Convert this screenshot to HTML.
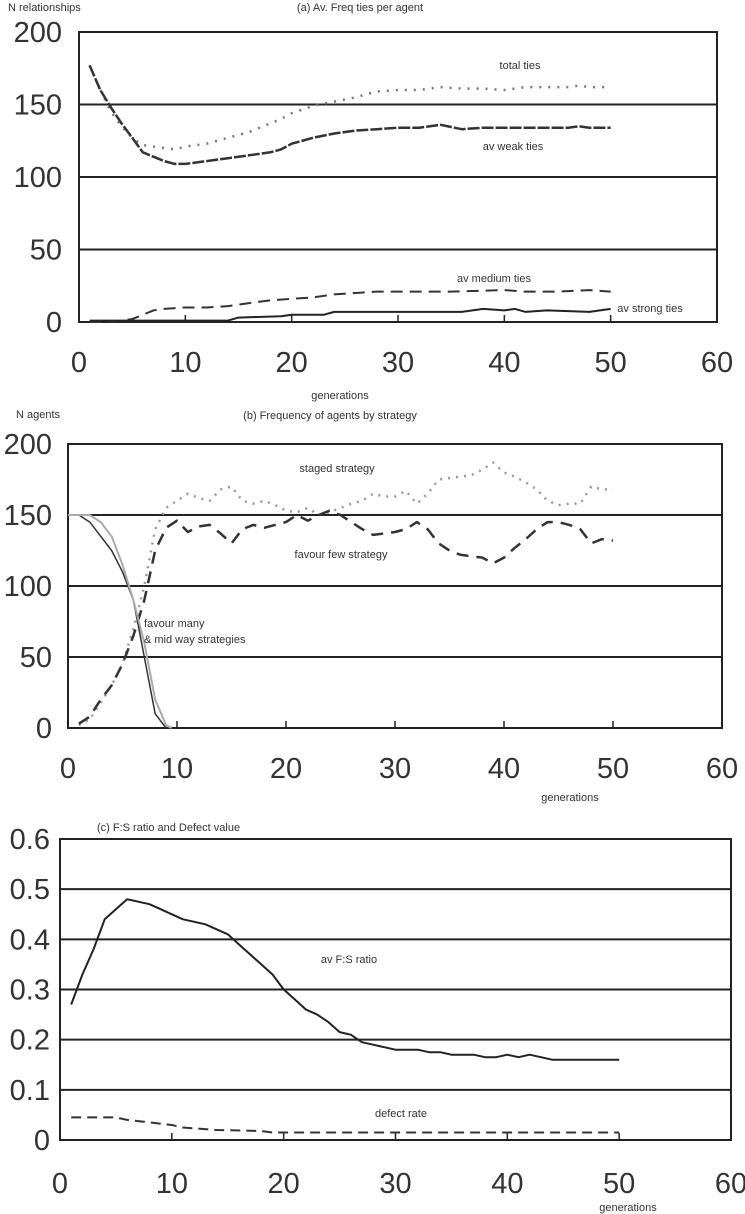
<!DOCTYPE html>
<html><head><meta charset="utf-8"><style>
html,body{margin:0;padding:0;background:#fff;}
svg{display:block;font-family:"Liberation Sans",sans-serif;}
.tick{font-size:29px;fill:#333;}
.lbl{font-size:11px;fill:#333;}
</style></head><body>
<svg id="fig" width="745" height="1214" viewBox="0 0 745 1214"></svg>
<script>
// Panel (a) data
const genA = [1,2,3,4,5,6,7,8,9,10,12,14,16,18,19,20,22,24,26,28,30,32,34,36,38,40,42,44,46,47,48,50];
const totalTies = [177,160,145,135,127,122,121,120,119,121,123,127,131,137,140,144,149,152,155,159,160,160,162,161,161,160,162,162,162,163,162,162];
const weakTies = [177,160,148,137,127,117,114,111,109,109,111,113,115,117,119,123,127,130,132,133,134,134,136,133,134,134,134,134,134,135,134,134];
const genMed = [1,3,4,5,6,7,8,10,12,14,16,18,20,22,24,26,28,30,35,40,42,45,48,50];
const mediumTies = [0,0,1,2,5,8,9,10,10,11,13,15,16,17,19,20,21,21,21,22,21,21,22,21];
const genStrong = [1,5,10,14,15,19,20,23,24,30,36,38,40,41,42,44,48,50];
const strongTies = [1,1,1,1,3,4,5,5,7,7,7,9,8,9,7,8,7,9];
const ticksA = [0,50,100,150,200];
const ticksX = [0,10,20,30,40,50,60];
// Panel (b) data
const genB = [1,2,3,4,5,6,7,8,9,10,11,12,13,14,15,16,17,18,19,20,21,22,23,24,25,26,27,28,29,30,31,32,33,34,35,36,37,38,39,40,41,42,43,44,45,46,47,48,49,50];
const favourFew = [3,8,20,30,45,65,90,125,141,146,138,142,143,137,130,140,143,141,143,145,150,146,150,153,150,145,140,136,137,138,140,145,140,130,125,122,121,120,116,120,127,133,140,145,145,143,140,130,133,132];
const staged = [2,6,18,30,45,70,100,140,155,160,165,162,160,168,170,160,158,160,157,153,152,155,150,152,155,158,160,165,163,163,167,158,165,175,176,177,178,182,187,180,177,173,168,160,157,158,158,170,168,168];
const genMany = [0,1,2,3,4,5,6,7,8,9];
const favourMany = [150,150,145,135,125,110,90,50,10,0];
const genMid = [0,1,2,3,4,5,6,7,8,9,9.5];
const midWay = [150,150,150,145,135,115,90,60,20,2,0];
const ticksB = [0,50,100,150,200];
// Panel (c) data
const genC = [1,2,3,4,5,6,7,8,9,10,11,12,13,14,15,16,17,18,19,20,21,22,23,24,25,26,27,28,29,30,32,33,34,35,37,38,39,40,41,42,43,44,46,48,50];
const fsRatio = [0.27,0.33,0.38,0.44,0.46,0.48,0.475,0.47,0.46,0.45,0.44,0.435,0.43,0.42,0.41,0.39,0.37,0.35,0.33,0.30,0.28,0.26,0.25,0.235,0.215,0.21,0.195,0.19,0.185,0.18,0.18,0.175,0.175,0.17,0.17,0.165,0.165,0.17,0.165,0.17,0.165,0.16,0.16,0.16,0.16];
const genDef = [1,3,5,6,8,10,11,14,18,19,25,30,40,50];
const defectRate = [0.045,0.045,0.045,0.04,0.035,0.03,0.025,0.02,0.018,0.015,0.015,0.015,0.015,0.015];
const ticksC = [0,0.1,0.2,0.3,0.4,0.5,0.6];

const NS='http://www.w3.org/2000/svg';
const svg=document.getElementById('fig');
function el(tag,attrs,parent){const e=document.createElementNS(NS,tag);for(const k in attrs)e.setAttribute(k,attrs[k]);(parent||svg).appendChild(e);return e;}

function panel(cfg){
  const g=el('g',{});
  
  
  const sx=v=>cfg.x0+(cfg.x1-cfg.x0)*v/60;
  const sy=v=>cfg.yb+(cfg.yt-cfg.yb)*(v-cfg.ymin)/(cfg.ymax-cfg.ymin);
  // grid
  cfg.ticks.forEach(t=>{
    const ln=el('line',{x1:cfg.x0,x2:cfg.x1,y1:sy(t),y2:sy(t),stroke:'#222','stroke-width':2},g);
    
    
    const tx=el('text',{x:cfg.yLabX,y:sy(t)+10,'text-anchor':'end',class:'tick'},g);
    tx.textContent=cfg.fmt(t);
    
    
  });
  const box=el('rect',{x:cfg.x0,y:cfg.yt,width:cfg.x1-cfg.x0,height:cfg.yb-cfg.yt,fill:'none',stroke:'#222','stroke-width':2},g);
  
  
  ticksX.forEach(t=>{
    if(t>0&&t<60){const tk=el('line',{x1:sx(t),x2:sx(t),y1:cfg.yb,y2:cfg.yb-7,stroke:'#222','stroke-width':1.5},g);
    
    }
    const tx=el('text',{x:sx(t),y:cfg.xLabY,'text-anchor':'middle',class:'tick'},g);
    tx.textContent=t;
    
    
  });
  cfg.series.forEach(s=>{
    const d=s.x.map((xv,i)=>(i?'L':'M')+sx(xv).toFixed(1)+','+sy(s.y[i]).toFixed(1)).join(' ');
    const p=el('path',{d:d,fill:'none',stroke:s.c,'stroke-width':s.w,'stroke-dasharray':s.dash||'none','stroke-linejoin':'round'},g);
    
    
  });
  cfg.texts.forEach(t=>{
    const tx=el('text',{x:t[0],y:t[1],class:'lbl','text-anchor':t[3]||'start'},g);
    tx.textContent=t[2];
    
    
  });
}

panel({name:'panel-a',x0:79,x1:717,yt:32,yb:322,ymin:0,ymax:200,ticks:ticksA,fmt:v=>v,yLabX:62,xLabY:372,
  series:[
   {name:'total-ties-line',x:genA,y:totalTies,c:'#777',w:2.5,dash:'2,7'},
   {name:'weak-ties-line',x:genA,y:weakTies,c:'#333',w:2.5,dash:'12,2'},
   {name:'medium-ties-line',x:genMed,y:mediumTies,c:'#333',w:2,dash:'12,7'},
   {name:'strong-ties-line',x:genStrong,y:strongTies,c:'#222',w:2}
  ],
  texts:[[8,11,'N relationships','start','y-axis-title'],[360,11,'(a) Av. Freq ties per agent','middle','chart-title'],
   [520,69,'total ties','middle','label-total-ties'],[513,150,'av weak ties','middle','label-weak-ties'],
   [494,282,'av medium ties','middle','label-medium-ties'],[650,312,'av strong ties','middle','label-strong-ties'],
   [340,399,'generations','middle','x-axis-title']]
});
panel({name:'panel-b',x0:68,x1:722,yt:444,yb:728,ymin:0,ymax:200,ticks:ticksB,fmt:v=>v,yLabX:52,xLabY:778,
  series:[
   {name:'staged-strategy-line',x:genB,y:staged,c:'#999',w:2.5,dash:'2,6'},
   {name:'favour-few-line',x:genB,y:favourFew,c:'#333',w:2.5,dash:'12,8'},
   {name:'favour-many-line',x:genMany,y:favourMany,c:'#333',w:1.5},
   {name:'mid-way-line',x:genMid,y:midWay,c:'#aaa',w:2}
  ],
  texts:[[16,418,'N agents','start','y-axis-title'],[330,419,'(b) Frequency of agents by strategy','middle','chart-title'],
   [337,472,'staged strategy','middle','label-staged'],[341,558,'favour few strategy','middle','label-favour-few'],
   [144,627,'favour many','start','label-favour-many'],[144,643,'&  mid way strategies','start','label-mid-way'],
   [570,801,'generations','middle','x-axis-title']]
});
panel({name:'panel-c',x0:60,x1:731,yt:839,yb:1140,ymin:0,ymax:0.6,ticks:ticksC,fmt:v=>v===0?'0':v.toFixed(1),yLabX:50,xLabY:1193,
  series:[
   {name:'fs-ratio-line',x:genC,y:fsRatio,c:'#222',w:2},
   {name:'defect-rate-line',x:genDef,y:defectRate,c:'#333',w:2,dash:'10,6'}
  ],
  texts:[[97,831,'(c) F:S ratio and Defect value','start','chart-title'],[349,963,'av F:S ratio','middle','label-fs-ratio'],
   [401,1117,'defect rate','middle','label-defect-rate'],[628,1211,'generations','middle','x-axis-title']]
});
</script>
</body></html>
